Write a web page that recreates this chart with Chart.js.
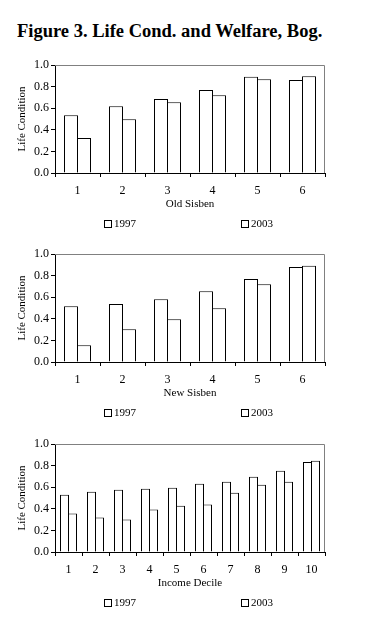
<!DOCTYPE html>
<html>
<head>
<meta charset="utf-8">
<script src="https://cdn.jsdelivr.net/npm/chart.js@4/dist/chart.umd.min.js"></script>
<style>
  html, body { margin: 0; padding: 0; background: #fff; width: 381px; height: 627px; overflow: hidden; }
  #title { position: absolute; left: 17px; top: 22px; font: bold 18.5px 'Liberation Serif', 'Times New Roman', serif; line-height: 18.5px; color: #000; white-space: nowrap; }
  canvas { position: absolute; left: 0; }
</style>
</head>
<body>
<div id="title">Figure 3. Life Cond. and Welfare, Bog.</div>
<canvas id="c1" width="381" height="190" style="top:50px"></canvas>
<canvas id="c2" width="381" height="190" style="top:239px"></canvas>
<canvas id="c3" width="381" height="190" style="top:429px"></canvas>
<script>
// ---- data ----
const seriesNames = ['1997', '2003'];
const sisbenCategories = ['1', '2', '3', '4', '5', '6'];
const decileCategories = ['1', '2', '3', '4', '5', '6', '7', '8', '9', '10'];
const oldSisben1997 = [0.535, 0.618, 0.686, 0.769, 0.892, 0.862];
const oldSisben2003 = [0.323, 0.498, 0.655, 0.720, 0.868, 0.895];
const newSisben1997 = [0.517, 0.536, 0.582, 0.656, 0.768, 0.879];
const newSisben2003 = [0.155, 0.303, 0.396, 0.498, 0.721, 0.892];
const income1997 = [0.531, 0.558, 0.577, 0.586, 0.595, 0.632, 0.650, 0.696, 0.752, 0.834];
const income2003 = [0.356, 0.319, 0.301, 0.393, 0.429, 0.439, 0.549, 0.623, 0.650, 0.844];
const yTickLabels = ['0.0', '0.2', '0.4', '0.6', '0.8', '1.0'];
const yAxisTitle = 'Life Condition';

Chart.defaults.font.family = "'Liberation Serif', 'Times New Roman', serif";
Chart.defaults.font.size = 12;
Chart.defaults.color = '#000';

const framePlugin = {
  id: 'frame',
  afterDatasetsDraw(chart) {
    const {ctx, chartArea: a} = chart;
    ctx.save();
    ctx.strokeStyle = '#808080';
    ctx.lineWidth = 1;
    ctx.beginPath();
    ctx.moveTo(a.left, a.top + 0.5);
    ctx.lineTo(a.right - 0.5, a.top + 0.5);
    ctx.lineTo(a.right - 0.5, a.bottom);
    ctx.stroke();
    ctx.restore();
  }
};

const legendPlugin = {
  id: 'spreadLegend',
  afterDraw(chart) {
    const {ctx, chartArea: a} = chart;
    const cx = (a.left + a.right) / 2;
    const offsets = [-70, 66.5];
    const y = Math.round(a.bottom + 51);
    ctx.save();
    ctx.font = "11px 'Liberation Serif', 'Times New Roman', serif";
    ctx.textBaseline = 'middle';
    ctx.strokeStyle = '#000';
    ctx.lineWidth = 1;
    chart.data.datasets.forEach((ds, i) => {
      const tw = ctx.measureText(ds.label).width;
      const w = 7 + 3 + tw;
      const x0 = Math.round(cx + offsets[i] - w / 2);
      ctx.fillStyle = '#fff';
      ctx.fillRect(x0 + 0.5, y - 3.5, 7, 7);
      ctx.strokeRect(x0 + 0.5, y - 3.5, 7, 7);
      ctx.fillStyle = '#000';
      ctx.textAlign = 'left';
      ctx.fillText(ds.label, x0 + 10, y + 0.5);
    });
    ctx.restore();
  }
};

// catPct/barPct chosen so that adjacent bars share one border line
function makeChart(id, categories, s1, s2, xTitle, catPct, barPct) {
  return new Chart(document.getElementById(id), {
    type: 'bar',
    data: {
      labels: categories,
      datasets: [
        { label: seriesNames[0], data: s1, backgroundColor: '#fff', borderColor: '#000', borderWidth: 1 },
        { label: seriesNames[1], data: s2, backgroundColor: '#fff', borderColor: '#000', borderWidth: 1 }
      ]
    },
    options: {
      responsive: false,
      animation: false,
      devicePixelRatio: 1,
      layout: { padding: { left: 0, right: 56, top: 15, bottom: 29 } },
      datasets: { bar: { categoryPercentage: catPct, barPercentage: barPct } },
      plugins: { legend: { display: false }, tooltip: { enabled: false } },
      scales: {
        x: {
          grid: { display: true, drawOnChartArea: false, tickLength: 4, color: '#000', offset: true },
          border: { display: true, color: '#000', width: 1 },
          ticks: { padding: 7, color: '#000', font: { size: 12 } },
          title: { display: true, text: xTitle, color: '#000', font: { size: 11 }, padding: { top: 0, bottom: 0 } },
          afterFit(scale) { scale.height = 38; }
        },
        y: {
          min: 0, max: 1,
          grid: { display: true, drawOnChartArea: false, tickLength: 4, color: '#000' },
          border: { display: true, color: '#000', width: 1 },
          ticks: { stepSize: 0.2, padding: 2, color: '#000', font: { size: 12 },
                   callback: (v, i) => yTickLabels[i] },
          title: { display: true, text: yAxisTitle, color: '#000', font: { size: 11 }, padding: { top: 16, bottom: 0 } },
          afterFit(scale) { scale.width = 55; }
        }
      }
    },
    plugins: [framePlugin, legendPlugin]
  });
}

makeChart('c1', sisbenCategories, oldSisben1997, oldSisben2003, 'Old Sisben', 26 / 45, 14 / 13);
makeChart('c2', sisbenCategories, newSisben1997, newSisben2003, 'New Sisben', 26 / 45, 14 / 13);
makeChart('c3', decileCategories, income1997, income2003, 'Income Decile', 16 / 27, 9 / 8);
</script>
</body>
</html>
